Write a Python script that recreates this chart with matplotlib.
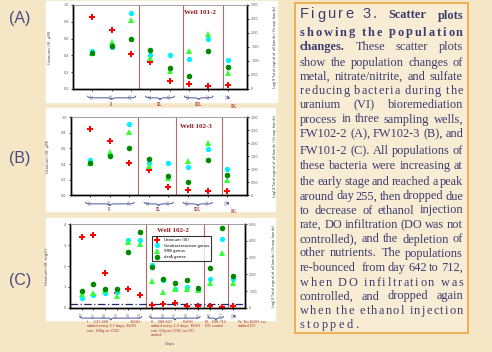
import matplotlib
matplotlib.use("Agg")
import matplotlib.pyplot as plt
import matplotlib.transforms as mtransforms
from matplotlib.lines import Line2D
from matplotlib.patches import PathPatch, Rectangle
from matplotlib.path import Path
import numpy as np

W, H = 492, 352
BG = "#F5E6C6"
NAVY = "#3C3C6E"
BRACE = "#4A55A0"
DARKRED = "#A8352C"
SEP = "#B06A6A"

# ---- panel A, Well 101-2 ----
days_a = ["137", "186", "255", "321", "455", "642", "712", "755"]
uranium_a = [0.86, 0.70, 0.415, 0.32, 0.10, 0.06, 0.04, 0.045]
cyan_a = [1.37, 1.50, 2.73, 1.20, 1.23, 1.08, 1.77, 1.02]
tri_a = [1.29, 1.68, 2.46, 1.11, 0.66, 1.35, 1.98, 0.57]
dgreen_a = [1.28, 1.53, 1.80, 1.38, 0.75, 0.48, 1.35, 0.78]
seps_a = [3.43, 5.70, 7.77]

# ---- panel B, Well 102-3 ----
days_b = ["137", "186", "255", "321", "455", "642", "712", "755"]
uranium_b = [0.855, 0.69, 0.42, 0.32, 0.10, 0.07, 0.05, 0.06]
cyan_b = [1.35, 1.56, 2.73, 1.23, 1.23, 1.08, 1.77, 1.02]
tri_b = [1.26, 1.68, 2.43, 1.11, 0.66, 1.32, 2.01, 0.60]
dgreen_b = [1.26, 1.50, 1.80, 1.38, 0.75, 0.51, 1.35, 0.78]
seps_b = [3.43, 5.37, 7.75]

# ---- panel C, Well 102-2 ----
days_c = ["137", "167", "186", "209", "237", "255", "293",
          "368", "455", "549", "637", "670", "712", "755"]
uranium_c = [3.38, 3.49, 1.65, 0.72, 0.90, 0.61, 0.14,
             0.16, 0.22, 0.08, 0.06, 0.10, 0.03, 0.06]
cyan_c = [0.56, 0.74, 0.90, 0.96, 4.03, 4.06, 2.53,
          1.66, 1.10, 1.23, 1.06, 1.74, 4.10, 1.70]
tri_c = [0.83, 0.90, 1.06, 0.70, 3.96, 3.83, 1.60,
         0.96, 1.10, 1.13, 1.06, 1.50, 3.26, 1.50]
dgreen_c = [1.00, 1.40, 1.13, 1.10, 3.36, 4.56, 2.43,
            1.74, 1.46, 1.66, 1.20, 2.40, 4.76, 1.90]
seps_c = [6.55, 11.5, 13.55]
detect_c = 0.16

groups_ab = [(1, 3), (4, 5), (6, 7)]
groups_c = [(1, 6), (7, 11), (12, 13)]
roman = ["I.", "II.", "III."]
legend_labels = ["Uranium (VI)", "Geobacteraceae genus", "SRB genus", "dsrA genes"]


def px_rect(l, t, r, b):
    return [l / W, 1 - b / H, (r - l) / W, (b - t) / H]


def brace(ax, x0, x1, yb, h):
    tr = mtransforms.blended_transform_factory(ax.transData, ax.transAxes)
    xm = (x0 + x1) / 2
    d = min(0.25, (x1 - x0) / 6)
    verts = [(x0, yb + h), (x0, yb), (x0 + d, yb), (xm - d, yb), (xm, yb),
             (xm, yb - h), (xm, yb), (xm + d, yb), (x1 - d, yb), (x1, yb), (x1, yb + h)]
    codes = [Path.MOVETO, Path.CURVE3, Path.CURVE3, Path.LINETO, Path.CURVE3,
             Path.CURVE3, Path.CURVE3, Path.CURVE3, Path.LINETO, Path.CURVE3, Path.CURVE3]
    ax.add_patch(PathPatch(Path(verts, codes), fill=False, lw=0.7,
                           edgecolor=BRACE, transform=tr, clip_on=False))


def panel(fig, box, white, days, u, cyan, tri, dg, seps,
          ulim, uticks, ulabels, rlim, rticks, rlabels, ylabel, rylabel):
    l, t, r, b = white
    fig.patches.append(Rectangle((l / W, 1 - b / H), (r - l) / W, (b - t) / H,
                                 transform=fig.transFigure, color="white", zorder=-1))
    ax = fig.add_axes(px_rect(*box))
    ax2 = ax.twinx()
    x = np.arange(1, len(days) + 1)

    ax.plot(x, u, ls="none", marker="P", ms=4.0, color="#FF0000", mew=0, zorder=5)
    ax2.plot(x, cyan, ls="none", marker="H", ms=4.2, color="#00F0FF", mew=0)
    ax2.plot(x, tri, ls="none", marker="^", ms=4.0, color="#33FF33", mew=0)
    ax2.plot(x, dg, ls="none", marker="o", ms=4.0, color="#008A00", mew=0)

    for s in seps:
        ax.axvline(s, color=SEP, lw=0.8)

    ax.set_xlim(0, len(days) + 1)
    ax.set_xticks(x)
    ax.set_xticklabels(days, rotation=90, fontsize=2.2, color="#666666")
    ax.set_ylim(*ulim)
    ax.set_yticks(uticks)
    ax.set_yticklabels(ulabels, fontsize=2.4, color="#555555")
    ax2.set_ylim(*rlim)
    ax2.set_yticks(rticks)
    ax2.set_yticklabels(rlabels, fontsize=2.4, color="#555555")
    for a in (ax, ax2):
        a.tick_params(length=1.5, width=0.5, pad=1.5)
        a.spines["top"].set_color("#999999")
        a.spines["top"].set_linewidth(0.5)
        for k in ("left", "right", "bottom"):
            a.spines[k].set_linewidth(1.0)
    ax.set_ylabel(ylabel, fontsize=2.8, color="#444444")
    ax2.set_ylabel(rylabel, fontsize=2.6, color="#444444")
    ax.yaxis.set_label_coords(-0.12, 0.5)
    ax2.yaxis.set_label_coords(1.14, 0.5)
    return ax, ax2


fig = plt.figure(figsize=(W / 100, H / 100), dpi=100)
fig.patch.set_facecolor(BG)

rlab_ab = ["0", "0.50", "1.00", "1.50", "2.00", "2.50", "3.00"]
ulab_ab = ["0.0", "0.2", "0.4", "0.6", "0.8", "1.0"]
log_label = "Log$_{10}$(Total signal of all bands / Group bands)"

axa, axa2 = panel(fig, (73, 5, 247, 89), (46, 1, 277, 102), days_a, uranium_a,
                  cyan_a, tri_a, dgreen_a, seps_a,
                  (0, 1.0), np.arange(0, 1.01, 0.2), ulab_ab,
                  (0, 3), np.arange(0, 3.01, 0.5), rlab_ab,
                  "Uranium (VI, \u00b5M)", log_label)

axb, axb2 = panel(fig, (70.7, 117.3, 246.7, 195.3), (46, 108, 275, 211), days_b, uranium_b,
                  cyan_b, tri_b, dgreen_b, seps_b,
                  (0, 1.0), np.arange(0, 1.01, 0.2), ulab_ab,
                  (0, 3), np.arange(0, 3.01, 0.5), rlab_ab,
                  "Uranium (VI, \u00b5M)", log_label)

axc, axc2 = panel(fig, (70, 224.3, 245, 307.7), (46, 218, 275, 320), days_c, uranium_c,
                  cyan_c, tri_c, dgreen_c, seps_c,
                  (0, 4), np.arange(0, 4.01, 1), ["0", "1", "2", "3", "4"],
                  (0, 5), np.arange(0, 5.01, 1), ["0", "1.00", "2.00", "3.00", "4.00", "5.00"],
                  "Uranium (VI, mg/L)", log_label)
axc.axhline(detect_c, color="#1F2A6E", lw=0.9, ls=(0, (6, 2, 1, 2)), zorder=4)

# braces and roman numerals
for ax, groups, yb, ylab in ((axa, groups_ab, -0.105, -0.18),
                             (axb, groups_ab, -0.11, -0.18),
                             (axc, groups_c, -0.125, None)):
    tr = mtransforms.blended_transform_factory(ax.transData, ax.transAxes)
    pad = 0.15 if ax is axc else 0.25
    for (g0, g1), rn in zip(groups, roman):
        brace(ax, g0 - pad, g1 + pad, yb, 0.025)
        if ylab is not None:
            ax.text((g0 + g1) / 2, ylab, rn, transform=tr, ha="center", va="center",
                    fontsize=4, family="Liberation Serif", weight="bold",
                    color=DARKRED, clip_on=False)

for ax, n in ((axa, 8), (axb, 8), (axc, 14)):
    tr = mtransforms.blended_transform_factory(ax.transData, ax.transAxes)
    k = 0.6 if ax is axc else 0.35
    ax.annotate("", xy=(n + k * 0.55, -0.15), xytext=(n - 0.1, -0.06),
                xycoords=tr, textcoords=tr, annotation_clip=False,
                arrowprops=dict(arrowstyle="-|>", lw=0.6, color=BRACE, mutation_scale=3))
    if ax is not axc:
        ax.text(n + k, -0.21, "IV.", transform=tr, ha="center", va="center",
                fontsize=4, family="Liberation Serif", weight="bold",
                color=DARKRED, clip_on=False)

# titles
for txt, (cx, cy) in (("Well 101-2", (200, 13)), ("Well 102-3", (196, 126)),
                      ("Well 102-2", (173, 230))):
    fig.text(cx / W, 1 - cy / H, txt, ha="center", va="center", fontsize=5,
             family="Liberation Serif", weight="bold", color="#8B1A1A")

# legend in C
handles = [Line2D([], [], ls="none", marker="P", ms=4, color="#FF0000", mew=0),
           Line2D([], [], ls="none", marker="H", ms=4, color="#00F0FF", mew=0),
           Line2D([], [], ls="none", marker="^", ms=4, color="#33FF33", mew=0),
           Line2D([], [], ls="none", marker="o", ms=4, color="#008A00", mew=0)]
leg = axc2.legend(handles, legend_labels, loc="upper left",
                  bbox_to_anchor=(150 / W, 1 - 234 / H), bbox_transform=fig.transFigure,
                  fontsize=2.8, frameon=True, fancybox=False, edgecolor="black",
                  borderpad=0.5, labelspacing=0.45, handlelength=1.5, handletextpad=1.0)
leg.get_frame().set_linewidth(0.8)
leg.get_frame().set_facecolor("white")

# stage notes under C
notes = [
    (86.7, "I.    137-268                    EtOH\nadded every 3-7 days, EtOH\ncon. 160g as COD"),
    (150.7, "II.   268-637          EtOH\nadded every 1-3 days, EtOH\ncon. 50g as COD, no DO\ncontrol"),
    (205.0, "III.  638-712\nDO control"),
    (237.5, "IV. No EtOH, no\nadded DO"),
]
for xn, s in notes:
    fig.text(xn / W, 1 - 320 / H, s, ha="left", va="top", fontsize=2.8,
             family="Liberation Sans", color=DARKRED, linespacing=1.15)
fig.text(170 / W, 1 - 344 / H, "Days", ha="center", va="center", fontsize=3.2,
         family="Liberation Sans", color="#555577")

# panel letters
for s, cy in (("(A)", 18), ("(B)", 158), ("(C)", 281)):
    fig.text(20 / W, 1 - cy / H, s, ha="center", va="center", fontsize=11.5,
             family="Liberation Sans", color="#4A4A80")

# caption box
fig.patches.append(Rectangle((295 / W, 1 - 333 / H), 173 / W, 330 / H,
                             transform=fig.transFigure, facecolor="#F8EDD4",
                             edgecolor="#F2A33A", lw=1.2, zorder=-1))

rend = fig.canvas.get_renderer()
STY = {
    "fig": dict(family="Liberation Sans", fontsize=10.5, fontweight="normal"),
    "b": dict(family="Liberation Serif", fontsize=8.9, fontweight="bold"),
    "r": dict(family="Liberation Serif", fontsize=8.9, fontweight="normal"),
}


def width(s, sty):
    t = fig.text(0, 0, s, **STY[sty])
    w = t.get_window_extent(renderer=rend).width
    t.remove()
    return w


def prefix_w(s, sty):
    # width of s including any trailing space
    return width(s + "I", sty) - width("I", sty)


def put(x, yb, s, sty):
    fig.text(x / W, 1 - yb / H, s, ha="left", va="baseline", color=NAVY, **STY[sty])


def line_words(yc, x0, x1, text, sty="r"):
    yb = yc + 3.5
    words = text.split()
    starts = []
    pos = 0
    for w in words:
        i = text.index(w, pos)
        starts.append(i)
        pos = i + len(w)
    offs = [0.0] + [prefix_w(text[:s], sty) for s in starts[1:]]
    natural = width(text, sty)
    extra = (x1 - x0 - natural) / max(len(words) - 1, 1)
    for k, (w, o) in enumerate(zip(words, offs)):
        put(x0 + o + k * extra, yb, w, sty)


def line_chars(yc, x0, x1, text, sty="r"):
    yb = yc + 3.5
    offs = [0.0] + [prefix_w(text[:i], sty) for i in range(1, len(text))]
    natural = width(text, sty)
    extra = (x1 - x0 - natural) / max(len(text) - 1, 1)
    for k, (c, o) in enumerate(zip(text, offs)):
        if c != " ":
            put(x0 + o + k * extra, yb, c, sty)


line_chars(15, 300, 377, "Figure 3.", "fig")
line_words(15, 388, 463, "Scatter plots", "b")
line_chars(32, 300, 463, "showing the population", "b")
# mixed bold / regular line
yb3 = 46.7 + 3.5
w_bold = width("changes.", "b")
rest = "These scatter plots"
rest_words = rest.split()
rest_w = [width(w, "r") for w in rest_words]
gap3 = (463 - 300 - w_bold - sum(rest_w)) / len(rest_words)
put(300, yb3, "changes.", "b")
xx = 300 + w_bold + gap3
for w, ww in zip(rest_words, rest_w):
    put(xx, yb3, w, "r")
    xx += ww + gap3

body = [
    (62.3, "show the population changes of", "word"),
    (76.3, "metal, nitrate/nitrite, and sulfate", "word"),
    (90.7, "reducing bacteria during the", "char"),
    (105, "uranium (VI) bioremediation", "word"),
    (119, "process in three sampling wells,", "word"),
    (133.3, "FW102-2 (A), FW102-3 (B), and", "word"),
    (150.5, "FW101-2 (C). All populations of", "word"),
    (165, "these bacteria were increasing at", "word"),
    (181.7, "the early stage and reached a peak", "word"),
    (196, "around day 255, then dropped due", "word"),
    (210, "to decrease of ethanol injection", "word"),
    (224.7, "rate, DO infiltration (DO was not", "word"),
    (239, "controlled), and the depletion of", "word"),
    (253, "other nutrients. The populations", "word"),
    (267.7, "re-bounced  from day 642 to 712,", "word"),
    (282, "when DO infiltration was", "char"),
    (296, "controlled, and dropped again", "word"),
    (310.3, "when the ethanol injection", "char"),
]
for yc, s, mode in body:
    if mode == "char":
        line_chars(yc, 300, 463, s)
    else:
        line_words(yc, 300, 463, s)
line_chars(324.7, 300, 358, "stopped.")

fig.savefig("out.png", dpi=100, facecolor=BG)
